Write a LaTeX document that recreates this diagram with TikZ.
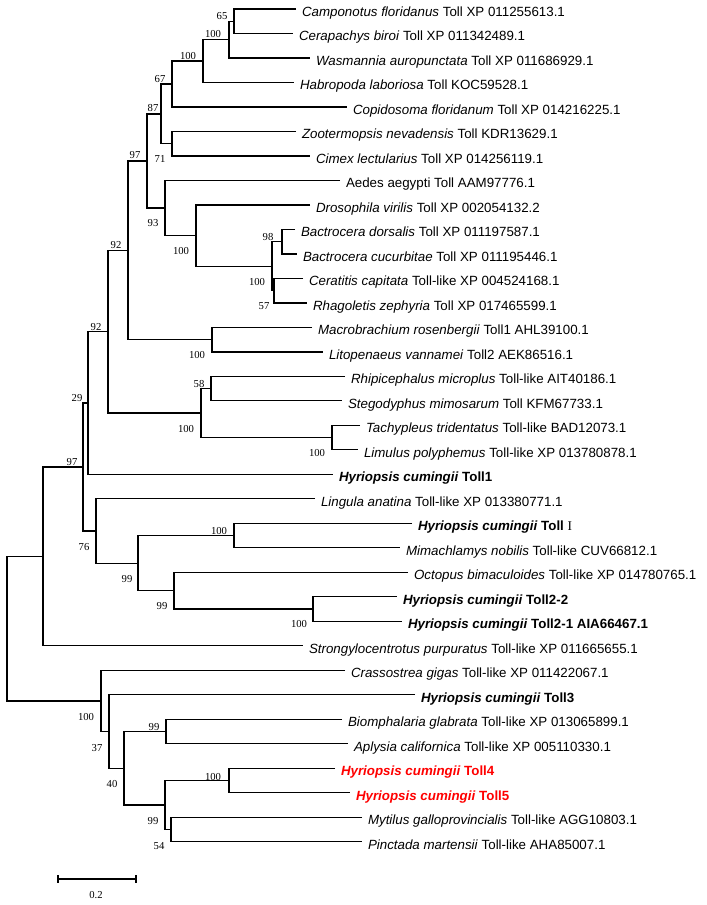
\documentclass[tikz,border=0pt]{standalone}
\usepackage{fontspec}
\setmainfont{Liberation Sans}
\newfontfamily\bsfont{Liberation Serif}
\usepackage{tikz}
\usetikzlibrary{calc}
\tikzstyle{leaf}=[anchor=west, inner xsep=4pt, inner ysep=0pt, text height=11.25pt, text depth=0pt, font=\fontsize{10}{12}\selectfont]
\tikzstyle{hc}=[leaf, font=\fontsize{10}{12}\selectfont\bfseries]
\tikzstyle{hcred}=[hc, text=red]
\tikzstyle{bs}=[inner sep=0pt, font=\bsfont\fontsize{8}{9}\selectfont]

\begin{document}
\begin{tikzpicture}[x=0.75pt, y=-0.75pt, line width=1pt]
\useasboundingbox (0,0) rectangle (706,905);
% the leaves (node west = branch tip)
\node[leaf] (camp) at (296,9.0) {\textit{Camponotus floridanus} Toll XP 011255613.1};
\node[leaf] (cera) at (293,33.5) {\textit{Cerapachys biroi} Toll XP 011342489.1};
\node[leaf] (wasm) at (310,58.0) {\textit{Wasmannia auropunctata} Toll XP 011686929.1};
\node[leaf] (habr) at (294,82.5) {\textit{Habropoda laboriosa} Toll KOC59528.1};
\node[leaf] (copi) at (347,107.0) {\textit{Copidosoma floridanum} Toll XP 014216225.1};
\node[leaf] (zoot) at (296,131.5) {\textit{Zootermopsis nevadensis} Toll KDR13629.1};
\node[leaf] (cime) at (310,155.9) {\textit{Cimex lectularius} Toll XP 014256119.1};
\node[leaf] (aede) at (340,180.4) {Aedes aegypti Toll AAM97776.1};
\node[leaf] (dros) at (310,204.9) {\textit{Drosophila virilis} Toll XP 002054132.2};
\node[leaf] (bdor) at (295,229.4) {\textit{Bactrocera dorsalis} Toll XP 011197587.1};
\node[leaf] (bcuc) at (297,253.9) {\textit{Bactrocera cucurbitae} Toll XP 011195446.1};
\node[leaf] (cerat) at (303,278.4) {\textit{Ceratitis capitata} Toll-like XP 004524168.1};
\node[leaf] (rhag) at (307,302.9) {\textit{Rhagoletis zephyria} Toll XP 017465599.1};
\node[leaf] (macr) at (312,327.4) {\textit{Macrobrachium rosenbergii} Toll1 AHL39100.1};
\node[leaf] (lito) at (323,351.9) {\textit{Litopenaeus vannamei} Toll2 AEK86516.1};
\node[leaf] (rhip) at (345,376.4) {\textit{Rhipicephalus microplus} Toll-like AIT40186.1};
\node[leaf] (steg) at (342,400.8) {\textit{Stegodyphus mimosarum} Toll KFM67733.1};
\node[leaf] (tach) at (360,425.3) {\textit{Tachypleus tridentatus} Toll-like BAD12073.1};
\node[leaf] (limu) at (358,449.8) {\textit{Limulus polyphemus} Toll-like XP 013780878.1};
\node[hc] (hc1) at (333,474.3) {\textit{Hyriopsis cumingii} Toll1};
\node[leaf] (ling) at (315,498.8) {\textit{Lingula anatina} Toll-like XP 013380771.1};
\node[hc] (hcI) at (412,523.3) {\textit{Hyriopsis cumingii} Toll {\bsfont\mdseries I}};
\node[leaf] (mima) at (400,547.8) {\textit{Mimachlamys nobilis} Toll-like CUV66812.1};
\node[leaf] (octo) at (408,572.3) {\textit{Octopus bimaculoides} Toll-like XP 014780765.1};
\node[hc] (hc22) at (397,596.8) {\textit{Hyriopsis cumingii} Toll2-2};
\node[hc] (hc21) at (402,621.3) {\textit{Hyriopsis cumingii} Toll2-1 AIA66467.1};
\node[leaf] (stro) at (303,645.7) {\textit{Strongylocentrotus purpuratus} Toll-like XP 011665655.1};
\node[leaf] (cras) at (345,670.2) {\textit{Crassostrea gigas} Toll-like XP 011422067.1};
\node[hc] (hc3) at (415,694.7) {\textit{Hyriopsis cumingii} Toll3};
\node[leaf] (biom) at (342,719.2) {\textit{Biomphalaria glabrata} Toll-like XP 013065899.1};
\node[leaf] (aply) at (348,743.7) {\textit{Aplysia californica} Toll-like XP 005110330.1};
\node[hcred] (hc4) at (335,768.2) {\textit{Hyriopsis cumingii} Toll4};
\node[hcred] (hc5) at (350,792.7) {\textit{Hyriopsis cumingii} Toll5};
\node[leaf] (myti) at (362,817.2) {\textit{Mytilus galloprovincialis} Toll-like AGG10803.1};
\node[leaf] (pinc) at (362,841.7) {\textit{Pinctada martensii} Toll-like AHA85007.1};
% the inner nodes
\coordinate (n65) at (234,21.25);
\coordinate (n100a) at (229,39.6);
\coordinate (n100b) at (203,61.1);
\coordinate (n67) at (172,84.0);
\coordinate (n71) at (172,143.7);
\coordinate (n87) at (161,113.9);
\coordinate (n98) at (282,241.7);
\coordinate (n57) at (274,290.7);
\coordinate (n100d) at (272,266.2);
\coordinate (n100c) at (196,235.6);
\coordinate (n93) at (165,208.0);
\coordinate (n97a) at (147,161.0);
\coordinate (n100e) at (212,339.7);
\coordinate (n92a) at (128,250.4);
\coordinate (n58) at (211,388.6);
\coordinate (n100g) at (332,437.6);
\coordinate (n100f) at (201,413.1);
\coordinate (n92b) at (108,331.8);
\coordinate (n29) at (88,403.1);
\coordinate (n100h) at (234,535.6);
\coordinate (n100i) at (313,609.1);
\coordinate (n99b) at (174,590.7);
\coordinate (n99a) at (138,563.2);
\coordinate (n76) at (96,531.0);
\coordinate (n97b) at (83,467.1);
\coordinate (n43) at (43,556.4);
\coordinate (n99c) at (166,731.5);
\coordinate (n100k) at (229,780.5);
\coordinate (n54) at (171,829.5);
\coordinate (n99d) at (165,805.0);
\coordinate (n40) at (124,768.3);
\coordinate (n37) at (109,731.5);
\coordinate (n100j) at (101,700.9);
\coordinate (root) at (7,628.6);
% the branches
\draw (camp.west) -| (n65) |- (cera.west);
\draw (n65) -| (n100a) |- (wasm.west);
\draw (n100a) -| (n100b) |- (habr.west);
\draw (n100b) -| (n67) |- (copi.west);
\draw (zoot.west) -| (n71) |- (cime.west);
\draw (n67) -| (n87) |- (n71);
\draw (bdor.west) -| (n98) |- (bcuc.west);
\draw (cerat.west) -| (n57) |- (rhag.west);
\draw (n98) -| (n100d) |- (n57);
\draw (dros.west) -| (n100c) |- (n100d);
\draw (aede.west) -| (n93) |- (n100c);
\draw (n87) -| (n97a) |- (n93);
\draw (macr.west) -| (n100e) |- (lito.west);
\draw (n97a) -| (n92a) |- (n100e);
\draw (rhip.west) -| (n58) |- (steg.west);
\draw (tach.west) -| (n100g) |- (limu.west);
\draw (n58) -| (n100f) |- (n100g);
\draw (n92a) -| (n92b) |- (n100f);
\draw (n92b) -| (n29) |- (hc1.west);
\draw (hcI.west) -| (n100h) |- (mima.west);
\draw (hc22.west) -| (n100i) |- (hc21.west);
\draw (octo.west) -| (n99b) |- (n100i);
\draw (n100h) -| (n99a) |- (n99b);
\draw (ling.west) -| (n76) |- (n99a);
\draw (n29) -| (n97b) |- (n76);
\draw (n97b) -| (n43) |- (stro.west);
\draw (biom.west) -| (n99c) |- (aply.west);
\draw (hc4.west) -| (n100k) |- (hc5.west);
\draw (myti.west) -| (n54) |- (pinc.west);
\draw (n100k) -| (n99d) |- (n54);
\draw (n99c) -| (n40) |- (n99d);
\draw (hc3.west) -| (n37) |- (n40);
\draw (cras.west) -| (n100j) |- (n37);
\draw (n43) -| (root) |- (n100j);
% the bootstrap values
\node[bs] (b65) at (222,16) {65};
\node[bs] (b100a) at (213,34) {100};
\node[bs] (b100b) at (188,56) {100};
\node[bs] (b67) at (160,79) {67};
\node[bs] (b87) at (153,108) {87};
\node[bs] (b71) at (160,159) {71};
\node[bs] (b97a) at (135,155) {97};
\node[bs] (b93) at (153,223) {93};
\node[bs] (b100c) at (181,251) {100};
\node[bs] (b98) at (268,237) {98};
\node[bs] (b100d) at (257,282) {100};
\node[bs] (b92a) at (116,245) {92};
\node[bs] (b57) at (264,306) {57};
\node[bs] (b92b) at (96,327) {92};
\node[bs] (b100e) at (197,355) {100};
\node[bs] (b58) at (199,384) {58};
\node[bs] (b29) at (77,398) {29};
\node[bs] (b100f) at (186,429) {100};
\node[bs] (b100g) at (317,453) {100};
\node[bs] (b97b) at (72,462) {97};
\node[bs] (b100h) at (219,531) {100};
\node[bs] (b76) at (84,547) {76};
\node[bs] (b99a) at (127,579) {99};
\node[bs] (b99b) at (162,606) {99};
\node[bs] (b100i) at (299,624) {100};
\node[bs] (b100j) at (86,717) {100};
\node[bs] (b37) at (97,748) {37};
\node[bs] (b99c) at (154,727) {99};
\node[bs] (b40) at (112,784) {40};
\node[bs] (b100k) at (213,777) {100};
\node[bs] (b99d) at (153,821) {99};
\node[bs] (b54) at (159,846) {54};
% the scale bar
\coordinate (sbl) at (58,879);
\coordinate (sbr) at (136,879);
\draw (sbl) -- (sbr);
\draw ($(sbl)+(0,-4)$) -- ($(sbl)+(0,4)$);
\draw ($(sbr)+(0,-4)$) -- ($(sbr)+(0,4)$);
\node[bs] (sblab) at (96,895) {0.2};
\end{tikzpicture}
\end{document}
